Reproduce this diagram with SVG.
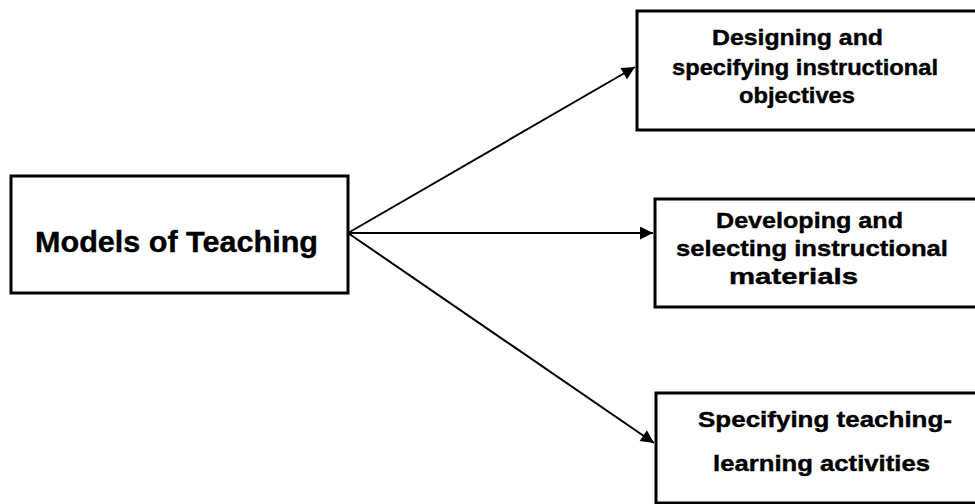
<svg xmlns="http://www.w3.org/2000/svg" width="975" height="504" viewBox="0 0 975 504">
  <style>
    .box { fill: #ffffff; stroke: #000000; stroke-width: 3; }
    .link { fill: none; stroke: #000000; stroke-width: 2; }
    .lbl { font-family: "Liberation Sans", Arial, sans-serif; font-weight: bold; fill: #000000; text-anchor: start; stroke: #000000; stroke-width: 0.4; }
    .big { font-size: 30px; }
    .small { font-size: 22px; }
  </style>
  <defs>
    <marker id="arrow" viewBox="0 0 10 10" refX="10" refY="5" markerWidth="8" markerHeight="6.5" markerUnits="strokeWidth" orient="auto">
      <path d="M0,0 L10,5 L0,10 Z" fill="#000000"/>
    </marker>
  </defs>
  <rect width="975" height="504" fill="#ffffff"/>

  <!-- connectors fanning out from the central node -->
  <g id="connectors">
    <line class="link" x1="348" y1="233" x2="635" y2="67" marker-end="url(#arrow)"/>
    <line class="link" x1="348" y1="233" x2="653" y2="233" marker-end="url(#arrow)"/>
    <line class="link" x1="348" y1="233" x2="654" y2="443" marker-end="url(#arrow)"/>
  </g>

  <g id="models-of-teaching">
    <rect class="box" x="11" y="176" width="337" height="117"/>
    <text class="lbl big" x="35" y="252" textLength="283" lengthAdjust="spacingAndGlyphs">Models of Teaching</text>
  </g>

  <g id="objectives">
    <rect class="box" x="637" y="11" width="360" height="119"/>
    <text class="lbl small" x="712" y="45" textLength="171" lengthAdjust="spacingAndGlyphs">Designing and</text>
    <text class="lbl small" x="672" y="75" textLength="266" lengthAdjust="spacingAndGlyphs">specifying instructional</text>
    <text class="lbl small" x="739" y="103" textLength="116" lengthAdjust="spacingAndGlyphs">objectives</text>
  </g>

  <g id="materials">
    <rect class="box" x="655" y="199" width="340" height="108"/>
    <text class="lbl small" x="716" y="228" textLength="187" lengthAdjust="spacingAndGlyphs">Developing and</text>
    <text class="lbl small" x="676" y="256" textLength="272" lengthAdjust="spacingAndGlyphs">selecting instructional</text>
    <text class="lbl small" x="729" y="284" textLength="129" lengthAdjust="spacingAndGlyphs">materials</text>
  </g>

  <g id="activities">
    <rect class="box" x="656" y="393" width="340" height="110"/>
    <text class="lbl small" x="698" y="427" textLength="254" lengthAdjust="spacingAndGlyphs">Specifying teaching-</text>
    <text class="lbl small" x="713" y="471" textLength="217" lengthAdjust="spacingAndGlyphs">learning activities</text>
  </g>
</svg>
